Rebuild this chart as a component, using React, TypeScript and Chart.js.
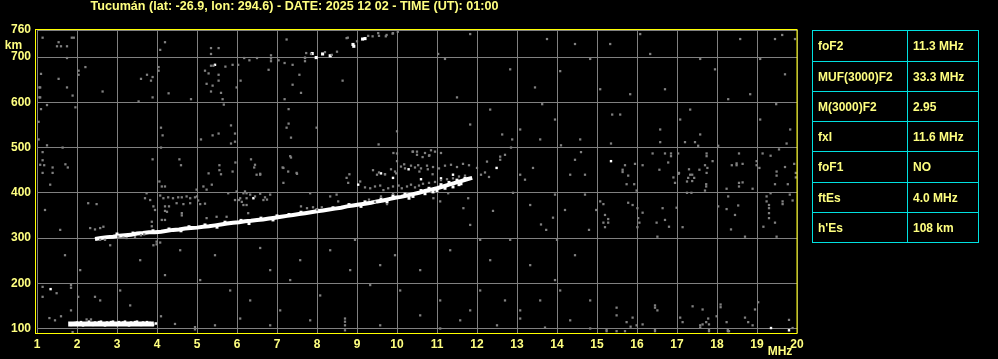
import React, { useEffect, useRef } from "react";
import { Chart, registerables } from "chart.js";
Chart.register(...registerables);

type P = [number, number];

const titleText = "Tucumán (lat: -26.9, lon: 294.6) - DATE: 2025 12 02 - TIME (UT): 01:00";
const xTickValues = [1, 2, 3, 4, 5, 6, 7, 8, 9, 10, 11, 12, 13, 14, 15, 16, 17, 18, 19, 20];
const yTickValues = [100, 200, 300, 400, 500, 600, 700, 760];
const xUnit = "MHz";
const yUnit = "km";
const paramNames = ["foF2", "MUF(3000)F2", "M(3000)F2", "fxI", "foF1", "ftEs", "h'Es"];
const paramValues = ["11.3 MHz", "33.3 MHz", "2.95", "11.6 MHz", "NO", "4.0 MHz", "108 km"];

// Sporadic E trace, centre line (white)
const esCenter: P[] = [
  [1.78, 110], [2.2, 110], [2.6, 110], [3.0, 110], [3.4, 110], [3.8, 110], [3.92, 110],
];

// Sporadic E trace, ragged echoes (white)
const esTrace: P[] = [
  [1.85, 108], [1.95, 112], [2.0, 113], [2.1, 114], [2.15, 107], [2.25, 112], [2.3, 115],
  [2.4, 108], [2.45, 113], [2.55, 114], [2.6, 115], [2.7, 107], [2.75, 113], [2.85, 114], [2.9, 115],
  [3.0, 108], [3.05, 114], [3.15, 113], [3.2, 115], [3.3, 107], [3.35, 113], [3.45, 114], [3.5, 115],
  [3.6, 108], [3.65, 113], [3.75, 114], [3.82, 112], [3.9, 108], [3.97, 111],
];

// F-region trace, centre of band (white)
const fTrace: P[] = [
  [2.45, 298], [2.6, 300], [2.75, 302], [2.9, 303], [3.05, 305], [3.2, 306], [3.35, 307], [3.5, 310],
  [3.65, 311], [3.8, 313], [3.95, 313], [4.1, 314], [4.25, 316], [4.4, 318], [4.55, 319], [4.7, 321],
  [4.85, 322], [5.0, 323], [5.15, 325], [5.3, 326], [5.45, 328], [5.6, 330], [5.75, 332], [5.9, 334],
  [6.05, 335], [6.2, 337], [6.35, 338], [6.5, 340], [6.65, 341], [6.8, 343], [6.95, 345], [7.1, 347],
  [7.25, 349], [7.4, 351], [7.55, 353], [7.7, 355], [7.85, 357], [8.0, 359], [8.15, 361], [8.3, 363],
  [8.45, 365], [8.6, 367], [8.75, 370], [8.9, 372], [9.05, 374], [9.2, 376], [9.35, 378], [9.5, 381],
  [9.65, 383], [9.8, 386], [9.95, 389], [10.1, 391], [10.25, 394], [10.4, 397], [10.55, 400], [10.7, 404],
  [10.85, 407], [11.0, 410], [11.15, 414], [11.3, 418], [11.45, 422], [11.6, 426], [11.75, 430], [11.88, 433],
];

// F-region trace, edges of band (white)
const fTraceEdge: P[] = [
  [3.0, 309], [3.4, 311], [3.9, 316], [4.3, 320], [4.8, 325], [5.2, 329], [5.7, 335], [6.1, 339],
  [6.3, 332], [6.6, 344], [7.0, 349], [7.3, 352], [7.6, 357], [8.0, 362], [8.4, 367], [8.8, 374],
  [9.2, 380], [9.6, 386], [9.9, 393], [10.2, 397], [10.4, 392], [10.6, 405], [10.8, 410], [11.0, 405],
  [11.1, 418], [11.3, 423], [11.4, 413], [11.5, 428], [11.6, 420], [11.7, 432], [10.9, 402], [11.2, 410],
  [11.55, 418], [10.3, 388], [10.7, 398], [9.75, 380], [9.1, 370], [5.5, 324], [4.6, 316], [6.9, 340],
];

// Second-hop F trace (white)
const secondHop: P[] = [
  [7.88, 708], [7.98, 699], [8.14, 707], [8.33, 703], [8.9, 728], [8.92, 724], [9.14, 740], [9.2, 741],
];

// Isolated white echoes
const whiteSpots: P[] = [
  [1.34, 187], [5.45, 683], [6.41, 388], [9.03, 418], [9.6, 443], [10.29, 452], [12.49, 455],
  [15.35, 470], [19.35, 101], [19.8, 96], [10.6, 430], [11.1, 432], [11.4, 440], [9.9, 433],
];

// Grey noise, upper left
const noiseUpperLeft: P[] = [
  [1.14, 743], [1.54, 733], [1.5, 724], [1.6, 724], [1.75, 724], [1.87, 743], [1.92, 743], [1.75, 698],
  [1.1, 663], [1.06, 633], [1.08, 633], [1.06, 611], [1.08, 611], [1.54, 652], [1.75, 633], [2.04, 670],
  [2.04, 661], [2.21, 678], [1.89, 615], [1.1, 585], [1.25, 594], [1.96, 589], [2.64, 624], [1.04, 557],
  [1.04, 518], [1.25, 505], [1.14, 490], [1.14, 472], [1.18, 461], [1.39, 456], [1.39, 444], [1.71, 463],
  [1.77, 456], [1.14, 444], [1.64, 500], [3.6, 652], [3.75, 661], [3.89, 656], [3.85, 648], [3.54, 602],
  [3.89, 611], [4.08, 716], [4.2, 733], [4.04, 678], [4.04, 670], [4.29, 620], [4.85, 607], [4.1, 544],
  [4.14, 527], [4.1, 500], [3.89, 474], [4.56, 474], [4.6, 461], [5.35, 720], [5.54, 720], [5.35, 707],
  [5.35, 681], [5.41, 681], [5.2, 670], [5.29, 664], [5.54, 661], [5.54, 648], [5.24, 641], [5.39, 637],
  [5.35, 624], [5.6, 621], [5.64, 607], [5.67, 595], [5.71, 679], [5.89, 683], [6.03, 683], [6.09, 648],
  [5.99, 633], [6.18, 698], [6.31, 693], [6.5, 698], [6.85, 704], [6.85, 697], [6.85, 691], [6.79, 672],
  [7.04, 693], [7.19, 687], [7.39, 683], [7.56, 661], [7.39, 639], [7.6, 621], [7.19, 607], [7.24, 739],
  [7.54, 761], [7.7, 698], [7.7, 691], [7.73, 709], [7.85, 707], [8.64, 648], [8.77, 743], [7.29, 585],
  [7.29, 553], [7.24, 544], [7.35, 522], [7.99, 544], [7.35, 478], [7.14, 456], [7.5, 442], [6.58, 442],
  [6.43, 456], [6.35, 474], [5.96, 467], [5.89, 447], [5.85, 549], [5.95, 531], [5.95, 513], [5.85, 509],
  [5.54, 531], [5.39, 527], [5.1, 518], [5.29, 443], [5.56, 461], [5.56, 450], [5.6, 441], [9.54, 507],
  [10.0, 536], [10.0, 487], [10.18, 463], [10.39, 491], [10.5, 491], [10.64, 479], [10.85, 494], [10.81, 483],
  [10.53, 461], [10.56, 447], [10.77, 452], [10.89, 441], [9.5, 440], [9.7, 441], [9.98, 443], [8.81, 441],
  [9.39, 746], [9.53, 753], [9.72, 746], [9.89, 752], [10.02, 756], [10.29, 761], [10.39, 761], [10.54, 761],
  [7.7, 699], [8.2, 711], [8.5, 712], [8.74, 742], [9.0, 735], [9.28, 747], [9.55, 747], [9.74, 749],
  [9.9, 753], [8.37, 705],
];

// Grey noise around the traces
const noiseNearTrace: P[] = [
  [2.28, 377], [2.49, 375], [2.33, 322], [2.45, 319], [2.58, 322], [2.66, 325], [2.7, 296], [2.58, 296],
  [3.03, 303], [3.16, 301], [3.24, 300], [3.45, 302], [3.6, 306], [3.68, 308], [3.74, 399], [3.7, 388],
  [3.83, 384], [3.91, 370], [3.95, 362], [3.87, 336], [3.87, 326], [3.91, 284], [3.99, 292], [4.06, 425],
  [4.12, 414], [4.2, 414], [4.08, 394], [4.16, 388], [4.28, 390], [4.4, 388], [4.53, 390], [4.62, 390],
  [4.74, 392], [4.83, 388], [4.95, 390], [5.0, 392], [5.03, 383], [4.2, 370], [4.3, 370], [4.49, 377],
  [4.66, 375], [4.83, 377], [5.08, 375], [5.2, 376], [4.62, 355], [4.62, 350], [4.12, 340], [4.2, 340],
  [4.08, 290], [3.99, 286], [4.2, 360], [4.25, 358], [4.99, 407], [5.16, 414], [5.24, 407], [5.37, 418],
  [5.24, 344], [5.49, 347], [5.74, 347], [5.78, 399], [5.99, 403], [6.16, 399], [5.95, 384], [6.08, 388],
  [6.16, 373], [6.24, 373], [6.24, 399], [6.24, 388], [6.28, 355], [6.2, 403], [6.33, 396], [6.45, 392],
  [6.58, 398], [6.7, 390], [6.75, 385], [6.83, 396], [6.05, 384], [6.12, 380], [6.66, 384], [7.33, 481],
  [6.45, 462], [7.16, 455], [7.28, 447], [6.49, 440], [6.58, 440], [7.16, 422], [7.49, 444], [7.83, 399],
  [7.6, 370], [7.75, 366], [7.9, 368], [8.0, 363], [8.12, 368], [8.33, 392], [8.49, 396], [8.53, 381],
  [8.74, 433], [8.78, 422], [9.08, 425], [9.2, 412], [9.33, 410], [9.45, 414], [9.58, 416], [9.66, 406],
  [9.78, 410], [9.9, 414], [10.04, 416], [10.12, 410], [10.25, 414], [10.35, 418], [10.45, 412], [10.55, 416],
  [10.65, 420], [10.8, 422], [10.95, 424], [11.1, 428], [11.25, 430], [11.4, 432], [11.55, 436], [11.7, 438],
  [9.3, 385], [9.45, 380], [9.6, 392], [9.75, 375], [9.9, 398], [9.4, 450], [9.55, 445], [9.7, 441],
  [9.85, 452], [9.95, 447], [10.1, 458], [10.2, 454], [10.35, 460], [10.45, 456], [10.6, 454], [10.75, 460],
  [10.9, 457], [11.05, 454], [11.2, 460], [11.35, 462], [11.5, 457], [11.65, 464], [11.8, 461], [12.0, 455],
  [10.4, 491], [10.5, 484], [10.7, 488], [10.8, 482], [10.95, 491], [11.1, 488], [9.91, 488], [10.0, 470],
  [11.28, 399], [10.91, 388], [11.08, 381], [11.66, 366], [11.78, 388], [12.1, 440], [12.3, 435], [12.2, 445],
];

// Grey noise, right side
const noiseRight: P[] = [
  [15.35, 509], [15.7, 461], [15.64, 451], [15.64, 446], [15.95, 464], [15.78, 438], [15.74, 419], [15.93, 419],
  [15.99, 405], [16.14, 461], [16.39, 487], [16.58, 512], [16.7, 487], [16.85, 487], [16.85, 481], [16.78, 467],
  [16.56, 451], [16.91, 434], [16.95, 422], [17.03, 487], [17.05, 444], [17.2, 512], [17.45, 512], [17.53, 504],
  [17.3, 452], [17.38, 440], [17.33, 440], [17.28, 433], [17.38, 426], [17.25, 425], [17.25, 400], [17.36, 400],
  [17.43, 433], [17.04, 442], [17.56, 451], [17.74, 487], [17.74, 481], [17.7, 461], [17.76, 455], [17.89, 470],
  [17.74, 444], [17.73, 419], [17.73, 414], [17.7, 405], [18.03, 504], [18.37, 461], [18.49, 461], [18.49, 465],
  [18.64, 464], [18.55, 487], [18.55, 422], [18.55, 414], [18.24, 409], [18.64, 423], [18.99, 470], [18.99, 461],
  [19.06, 455], [19.14, 487], [19.34, 482], [19.55, 496], [19.74, 509], [19.49, 447], [19.49, 438], [19.7, 457],
  [19.93, 464], [19.77, 419], [19.97, 444], [19.97, 434], [19.45, 419], [18.89, 409], [15.08, 381], [15.16, 375],
  [15.2, 351], [15.28, 342], [15.16, 334], [15.28, 334], [15.2, 324], [15.78, 378], [15.89, 373], [16.01, 366],
  [16.14, 356], [16.03, 344], [16.06, 334], [16.01, 324], [16.49, 334], [16.64, 366], [16.7, 340], [16.8, 325],
  [16.99, 367], [17.14, 324], [16.51, 303], [18.03, 370], [18.24, 364], [18.28, 392], [18.53, 372], [18.45, 351],
  [18.35, 319], [18.7, 303], [19.16, 325], [19.24, 392], [19.24, 381], [19.34, 399], [19.3, 373], [19.3, 366],
  [19.3, 355], [19.3, 344], [19.64, 381], [19.64, 375], [19.45, 334], [19.82, 396], [19.89, 383], [19.49, 303],
  [11.03, 707], [11.2, 696], [11.83, 751], [12.63, 529], [13.75, 740], [14.08, 669], [14.83, 696], [15.33, 729],
  [16.08, 751], [16.7, 629], [17.08, 562], [17.58, 696], [18.58, 740], [18.83, 618], [19.08, 562], [19.45, 740],
  [19.48, 596], [19.7, 662], [19.83, 540], [13.08, 540], [13.63, 596], [14.58, 518], [15.08, 629], [15.58, 573],
  [16.33, 707], [17.58, 529], [18.28, 607], [12.83, 673], [15.38, 573], [11.5, 611], [11.83, 551], [12.33, 584],
  [13.45, 633], [13.95, 562], [14.45, 729], [15.83, 618], [16.58, 540], [17.33, 584], [17.95, 673], [19.08, 696],
  [19.63, 749], [19.95, 740], [12.25, 469], [12.58, 480], [12.85, 500], [13.2, 429], [13.58, 518], [13.95, 396],
  [14.2, 362], [14.45, 473], [14.7, 440], [13.6, 330], [14.0, 296], [14.8, 318], [12.9, 400], [13.4, 455],
  [14.1, 505], [12.4, 360], [13.9, 345], [14.6, 490],
];

// Grey noise, lower part
const noiseLower: P[] = [
  [1.14, 192], [1.14, 170], [1.49, 178], [2.03, 170], [2.45, 170], [1.85, 196], [1.85, 190], [1.85, 140],
  [1.31, 123], [1.45, 118], [1.6, 127], [4.1, 127], [4.45, 110], [4.95, 103], [4.95, 98], [1.89, 92],
  [2.24, 120], [2.35, 120], [15.49, 146], [15.49, 129], [15.24, 94], [15.24, 98], [15.49, 94], [15.7, 94],
  [15.89, 124], [15.74, 114], [15.84, 104], [15.99, 107], [16.14, 109], [16.45, 151], [16.45, 146], [16.45, 94],
  [16.45, 98], [16.51, 140], [17.08, 124], [17.14, 114], [17.39, 149], [17.64, 142], [17.58, 107], [17.58, 102],
  [17.64, 109], [17.73, 114], [17.78, 122], [17.8, 109], [17.8, 94], [17.8, 98], [17.99, 127], [18.09, 153],
  [18.09, 147], [18.24, 114], [18.27, 94], [18.3, 94], [18.27, 98], [18.7, 124], [18.78, 114], [18.89, 107],
  [18.95, 142], [19.03, 158], [19.8, 119], [19.89, 101], [12.08, 296], [12.33, 251], [12.7, 484], [12.88, 518],
  [12.58, 473], [13.08, 440], [13.33, 373], [13.73, 318], [14.33, 440], [14.7, 396], [14.98, 362], [14.08, 184],
  [13.08, 140], [13.58, 162], [12.08, 184], [11.83, 140], [11.08, 162], [10.08, 184], [9.95, 262], [9.58, 240],
  [8.95, 296], [8.33, 273], [7.58, 251], [6.83, 229], [6.33, 162], [5.83, 184], [5.08, 207], [4.58, 273],
  [3.58, 251], [3.08, 184], [2.58, 162], [2.08, 229], [1.58, 318], [1.2, 362], [1.33, 418], [1.08, 462],
  [1.7, 262], [2.83, 284], [4.2, 218], [5.45, 262], [6.58, 278], [7.33, 207], [8.08, 173], [8.83, 229],
  [9.33, 196], [10.58, 229], [11.33, 273], [11.83, 329], [12.83, 296], [13.33, 240], [13.95, 207], [14.45, 262],
  [14.83, 162], [11.58, 118], [10.58, 129], [9.58, 107], [8.7, 122], [8.7, 107], [8.7, 96], [8.7, 115],
  [7.83, 118], [7.08, 140], [6.08, 122], [5.45, 107], [12.5, 107], [13.08, 122], [13.7, 102], [14.33, 118],
  [14.83, 100], [3.33, 151], [6.83, 107], [12.7, 162], [11.08, 100],
];

const LABEL = "#ffff80";
const AXIS = "#ffff00";
const GRID = "#808080";
const NOISE = "#808080";
const FONT = '"Liberation Sans", Arial, sans-serif';

const pts = (a: P[]) => a.map(([x, y]) => ({ x, y }));

export default function App() {
  const ref = useRef<HTMLCanvasElement | null>(null);

  useEffect(() => {
    const canvas = ref.current;
    if (!canvas) return;

    const overlay = {
      id: "overlay",
      afterDraw(chart: any) {
        const { ctx, chartArea } = chart;
        const { left, right, top, bottom } = chartArea;
        ctx.save();
        ctx.strokeStyle = AXIS;
        ctx.lineWidth = 1;
        ctx.strokeRect(left - 1.5, top - 0.5, right - left + 1.5, bottom - top + 1);
        ctx.fillStyle = LABEL;
        ctx.font = `bold 12px ${FONT}`;
        ctx.textBaseline = "middle";
        ctx.textAlign = "center";
        ctx.fillText(yUnit, 13.5, 45.5);
        ctx.fillText(xUnit, 780, 352);
        const w = ctx.measureText(titleText).width;
        const target = 408;
        ctx.translate(294.5, 6.5);
        ctx.scale(target / w, 1);
        ctx.fillText(titleText, 0, 0);
        ctx.restore();
      },
    };

    const dots = (data: P[], color: string, r: number) => ({
      data: pts(data),
      pointStyle: "rect",
      pointRadius: r,
      pointHoverRadius: r,
      backgroundColor: color,
      borderWidth: 0,
      showLine: false,
    });

    const band = (data: P[], width: number) => ({
      data: pts(data),
      showLine: true,
      borderColor: "#ffffff",
      borderWidth: width,
      borderCapStyle: "butt",
      borderJoinStyle: "miter",
      tension: 0,
      pointRadius: 0,
      pointHoverRadius: 0,
      fill: false,
    });

    const chart = new Chart(canvas, {
      type: "scatter",
      data: {
        datasets: [
          dots(noiseUpperLeft, NOISE, 1.6),
          dots(noiseNearTrace, NOISE, 1.6),
          dots(noiseRight, NOISE, 1.6),
          dots(noiseLower, NOISE, 1.6),
          dots(whiteSpots, "#ffffff", 1.7),
          dots(secondHop, "#ffffff", 2.2),
          band(esCenter, 5),
          dots(esTrace, "#ffffff", 1.8),
          band(fTrace, 4),
          dots(fTraceEdge, "#ffffff", 2.1),
        ] as any,
      },
      options: {
        animation: false,
        responsive: false,
        maintainAspectRatio: false,
        events: [],
        layout: { padding: { top: 30, right: 201, left: 0, bottom: 0 } },
        plugins: {
          legend: { display: false },
          tooltip: { enabled: false },
          title: { display: false },
        },
        scales: {
          x: {
            type: "linear",
            min: 1,
            max: 20,
            afterBuildTicks: (axis: any) => {
              axis.ticks = xTickValues.map((v) => ({ value: v }));
            },
            afterFit: (s: any) => {
              s.height = 26;
            },
            grid: { color: GRID, drawTicks: false, lineWidth: 1 },
            border: { display: false },
            ticks: {
              color: LABEL,
              font: { family: FONT, size: 12, weight: "bold" },
              padding: 4,
              maxRotation: 0,
              autoSkip: false,
              callback: (v: any) => String(v),
            },
          },
          y: {
            type: "linear",
            min: 90,
            max: 760,
            afterBuildTicks: (axis: any) => {
              axis.ticks = yTickValues.map((v) => ({ value: v }));
            },
            afterFit: (s: any) => {
              s.width = 37;
            },
            grid: { color: GRID, drawTicks: false, lineWidth: 1 },
            border: { display: false },
            ticks: {
              color: LABEL,
              font: { family: FONT, size: 12, weight: "bold" },
              padding: 6,
              autoSkip: false,
              callback: (v: any) => String(v),
            },
          },
        },
      },
      plugins: [overlay],
    } as any);

    return () => chart.destroy();
  }, []);

  const cell: React.CSSProperties = {
    border: "1px solid #00e0e0",
    padding: "0 0 0 5px",
    height: 29,
    color: LABEL,
    font: `bold 12px ${FONT}`,
    whiteSpace: "nowrap",
    verticalAlign: "middle",
    textAlign: "left",
  };

  return (
    <div
      style={{
        position: "fixed",
        left: 0,
        top: 0,
        width: 998,
        height: 359,
        background: "#000",
        overflow: "hidden",
      }}
    >
      <canvas
        ref={ref}
        width={998}
        height={359}
        style={{ position: "absolute", left: 0, top: 0, width: 998, height: 359 }}
      />
      <table
        style={{
          position: "absolute",
          left: 812,
          top: 30,
          width: 166,
          borderCollapse: "collapse",
          tableLayout: "fixed",
        }}
      >
        <colgroup>
          <col style={{ width: 95 }} />
          <col style={{ width: 71 }} />
        </colgroup>
        <tbody>
          {paramNames.map((n, i) => (
            <tr key={n}>
              <td style={{ ...cell, height: i === 0 || i === 4 ? 30 : 29 }}>{n}</td>
              <td style={{ ...cell, height: i === 0 || i === 4 ? 30 : 29 }}>{paramValues[i]}</td>
            </tr>
          ))}
        </tbody>
      </table>
    </div>
  );
}
